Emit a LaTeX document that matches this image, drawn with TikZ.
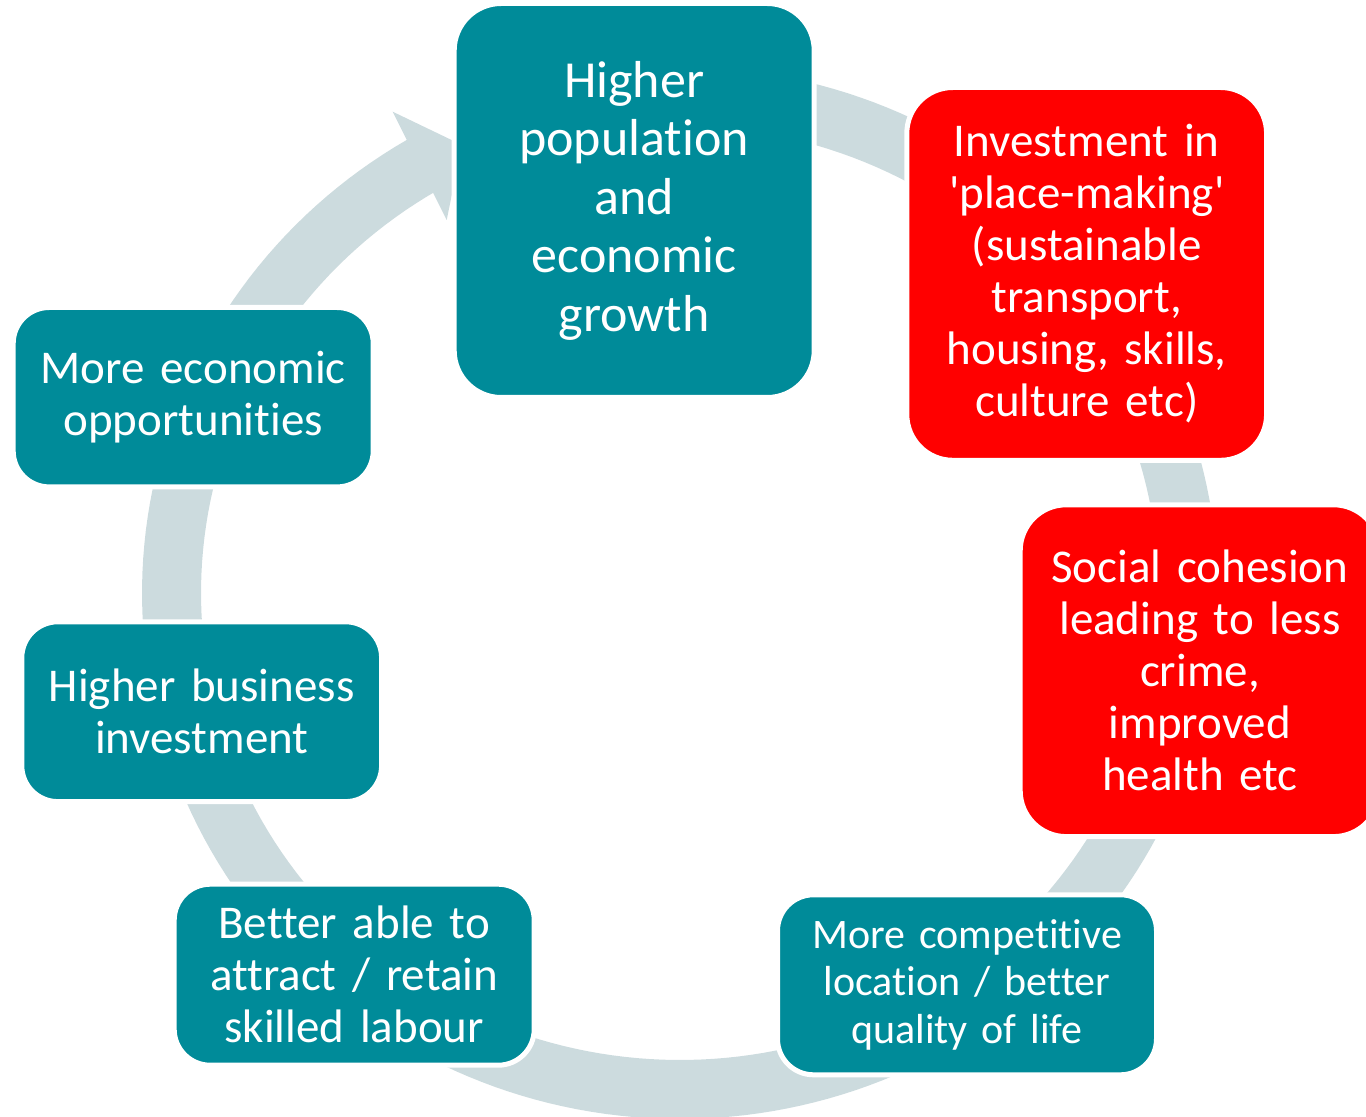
\documentclass[tikz,border=0pt]{standalone}
\usepackage{fontspec}
\setmainfont{Carlito}
\newfontfamily\boxfont{Carlito}[Ligatures=NoCommon]
\definecolor{tealc}{RGB}{0,139,153}
\definecolor{ringc}{RGB}{204,219,222}
\definecolor{redc}{RGB}{255,0,0}
\begin{document}
\begin{tikzpicture}[x=0.5pt,y=-0.5pt,
  box/.style={draw=white, line width=2.5pt, text=white, align=center,
    inner sep=0pt, text width=172pt},
  tealbox/.style={box, fill=tealc},
  redbox/.style={box, fill=redc},
  bigfont/.style={font=\boxfont\fontsize{26pt}{29.25pt}\selectfont},
  midfont/.style={font=\boxfont\fontsize{23.5pt}{26pt}\selectfont},
  smallfont/.style={font=\boxfont\fontsize{21pt}{23.75pt}\selectfont}]
\useasboundingbox (0,0) rectangle (1366,1117);
\clip (0,0) rectangle (1366,1117);
% ring (block arc)
\fill[ringc] plot[domain=-90:239.5, samples=220] ({680+538*cos(\x)},{593+526*sin(\x)})
  -- plot[domain=-90:239.5, samples=220] ({680+479*cos(149.5-\x)},{593+467*sin(149.5-\x)}) -- cycle;
% arrow head
\fill[ringc] (392.7,111.7) coordinate (barbout) -- (462,145) coordinate (tip) -- (446.7,220) coordinate (barbin) -- cycle;
% boxes
\node[tealbox, bigfont, minimum width=180pt, minimum height=197pt, rounded corners=23.5pt]
  (growth) at (634.2,200.5) {Higher\\population\\and\\economic\\growth};
\node[redbox, midfont, minimum width=179.9pt, minimum height=186.4pt, rounded corners=23pt]
  (place) at (1086.7,273.9) {Investment in\\'place-making'\\(sustainable\\transport,\\housing, skills,\\culture etc)};
\node[redbox, midfont, minimum width=179.7pt, minimum height=165.9pt, rounded corners=23pt]
  (cohesion) at (1199.9,670.7) {Social cohesion\\leading to less\\crime,\\improved\\health etc};
\node[tealbox, smallfont, minimum width=189.5pt, minimum height=90pt, rounded corners=18pt]
  (location) at (967,984.8) {More competitive\\location / better\\quality of life};
\node[tealbox, midfont, minimum width=180pt, minimum height=90.5pt, rounded corners=18pt]
  (labour) at (354.2,974.7) {Better able to\\attract / retain\\skilled labour};
\node[tealbox, midfont, minimum width=179.9pt, minimum height=89.9pt, rounded corners=18pt]
  (business) at (201.7,711.7) {Higher business\\investment};
\node[tealbox, midfont, minimum width=180pt, minimum height=89.7pt, rounded corners=18pt]
  (opps) at (193.2,397.2) {More economic\\opportunities};
\end{tikzpicture}
\end{document}
